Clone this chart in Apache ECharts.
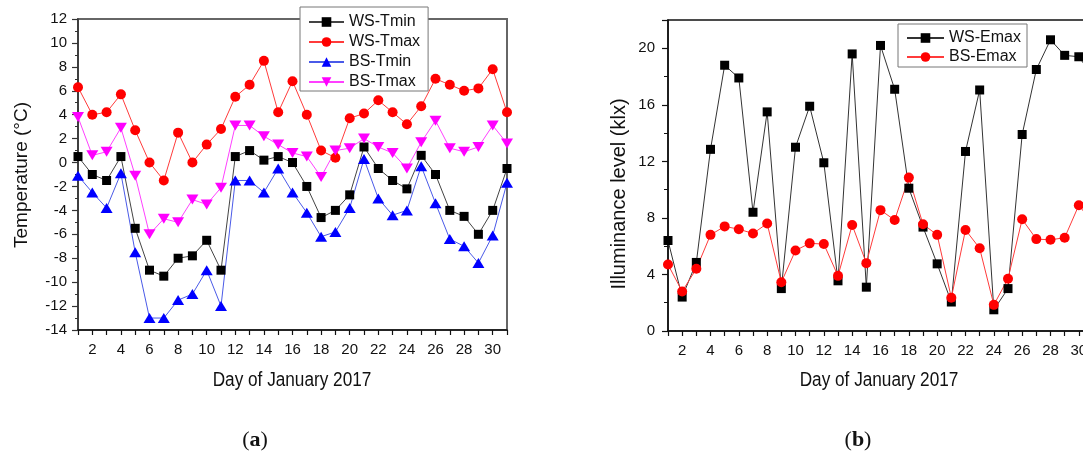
<!DOCTYPE html>
<html><head><meta charset="utf-8">
<script src="https://cdn.jsdelivr.net/npm/echarts@6/dist/echarts.min.js"></script>
<style>html,body{margin:0;padding:0;background:#fff}#c{width:1083px;height:457px}</style>
</head><body><div id="c"></div>
<script>
const days = [1,2,3,4,5,6,7,8,9,10,11,12,13,14,15,16,17,18,19,20,21,22,23,24,25,26,27,28,29,30,31];
const wsTmin = [0.5,-1.0,-1.5,0.5,-5.5,-9.0,-9.5,-8.0,-7.8,-6.5,-9.0,0.5,1.0,0.2,0.5,0.0,-2.0,-4.6,-4.0,-2.7,1.3,-0.5,-1.5,-2.2,0.6,-1.0,-4.0,-4.5,-6.0,-4.0,-0.5];
const wsTmax = [6.3,4.0,4.2,5.7,2.7,0.0,-1.5,2.5,0.0,1.5,2.8,5.5,6.5,8.5,4.2,6.8,4.0,1.0,0.4,3.7,4.1,5.2,4.2,3.2,4.7,7.0,6.5,6.0,6.2,7.8,4.2];
const bsTmin = [-1.1,-2.5,-3.8,-0.9,-7.5,-13.0,-13.0,-11.5,-11.0,-9.0,-12.0,-1.5,-1.5,-2.5,-0.5,-2.5,-4.2,-6.2,-5.8,-3.8,0.3,-3.0,-4.4,-4.0,-0.3,-3.4,-6.4,-7.0,-8.4,-6.1,-1.7];
const bsTmax = [3.8,0.6,0.9,2.9,-1.1,-6.0,-4.7,-5.0,-3.1,-3.5,-2.1,3.1,3.1,2.2,1.5,0.8,0.5,-1.2,1.0,1.2,2.0,1.3,0.8,-0.5,1.7,3.5,1.2,0.9,1.3,3.1,1.6];
const wsEmax = [6.4,2.4,4.85,12.85,18.8,17.9,8.4,15.5,3.0,13.0,15.9,11.9,3.55,19.6,3.1,20.2,17.1,10.1,7.35,4.75,2.05,12.7,17.05,1.5,3.0,13.9,18.5,20.6,19.5,19.4,18.0];
const bsEmax = [4.7,2.8,4.4,6.8,7.4,7.2,6.9,7.6,3.45,5.7,6.2,6.15,3.9,7.5,4.8,8.55,7.85,10.85,7.55,6.8,2.35,7.15,5.85,1.85,3.7,7.9,6.5,6.45,6.6,8.9,7.6];
const xTitle = 'Day of January 2017';
const yTitleA = 'Temperature (°C)';
const yTitleB = 'Illuminance level (klx)';

const pairs = arr => arr.map((v, i) => [days[i], v]);
const reg = "'Liberation Sans',Arial,sans-serif";

function xAxisCfg(gi) {
  return {
    type: 'value', gridIndex: gi, min: 1, max: 31, interval: 1,
    axisLine: {show: true, onZero: false, lineStyle: {color: '#111', width: 1.5}},
    axisTick: {show: true, length: 5, lineStyle: {color: '#111', width: 1.2}},
    axisLabel: {margin: 12, fontSize: 15, fontFamily: reg, color: '#111',
      formatter: v => (v % 2 === 0 ? String(v) : '')},
    splitLine: {show: false}
  };
}

function lineSeries(name, data, gi, symbol, size, color, lineColor, rotate) {
  return {
    name, type: 'line', xAxisIndex: gi, yAxisIndex: gi, data: pairs(data),
    symbol, symbolSize: size, symbolRotate: rotate || 0, showAllSymbol: true,
    itemStyle: {color, borderWidth: 0},
    lineStyle: {color: lineColor, width: 1},
    emphasis: {disabled: true}, z: 3
  };
}

function title(text, x, y, rot, size, sx) {
  return {type: 'text', x, y, rotation: rot, scaleX: sx,
    style: {text, font: size + "px 'Liberation Sans', Arial, sans-serif", fill: '#111', align: 'center', verticalAlign: 'middle'}};
}

const chart = echarts.init(document.getElementById('c'), null, {renderer: 'canvas'});
chart.setOption({
  animation: false,
  backgroundColor: '#fff',
  grid: [
    {left: 78, top: 19, right: 576, bottom: 127, show: true, borderColor: '#666', borderWidth: 2, containLabel: false, outerBoundsMode: 'none'},
    {left: 668, top: 20, right: -10, bottom: 126, show: true, borderColor: '#111', borderWidth: 1.5, containLabel: false, outerBoundsMode: 'none'}
  ],
  xAxis: [xAxisCfg(0), xAxisCfg(1)],
  yAxis: [
    {type: 'value', gridIndex: 0, min: -14, max: 12, interval: 2,
     axisLine: {show: true, onZero: false, lineStyle: {color: '#333', width: 1.5}},
     axisTick: {show: true, length: 6, lineStyle: {color: '#333', width: 1.2}},
     minorTick: {show: true, splitNumber: 2, length: 3, lineStyle: {color: '#333', width: 1}},
     axisLabel: {margin: 11, fontSize: 15, fontFamily: reg, color: '#111'},
     splitLine: {show: false}},
    {type: 'value', gridIndex: 1, min: 0, max: 22, interval: 4,
     axisLine: {show: true, onZero: false, lineStyle: {color: '#111', width: 1.5}},
     axisTick: {show: true, length: 6, lineStyle: {color: '#111', width: 1.2}},
     minorTick: {show: true, splitNumber: 2, length: 4, lineStyle: {color: '#111', width: 1}},
     axisLabel: {margin: 13, fontSize: 15, fontFamily: reg, color: '#111',
       formatter: v => (v % 4 === 0 ? String(v) : '')},
     splitLine: {show: false}}
  ],
  legend: [
    {data: ['WS-Tmin', 'WS-Tmax', 'BS-Tmin', 'BS-Tmax'], orient: 'vertical', left: 300, top: 7,
     padding: [7, 8, 1, 8], itemWidth: 35, itemHeight: 12, itemGap: 4,
     backgroundColor: '#fff', borderColor: '#777', borderWidth: 1,
     textStyle: {fontSize: 16, fontFamily: reg, color: '#111', lineHeight: 16}, selectedMode: false},
    {data: ['WS-Emax', 'BS-Emax'], orient: 'vertical', left: 898, top: 24,
     padding: [6, 6, 2, 8], itemWidth: 37, itemHeight: 12, itemGap: 3,
     backgroundColor: '#fff', borderColor: '#777', borderWidth: 1,
     textStyle: {fontSize: 16, fontFamily: reg, color: '#111', lineHeight: 16}, selectedMode: false}
  ],
  series: [
    lineSeries('WS-Tmin', wsTmin, 0, 'rect', 9, '#000', '#444'),
    lineSeries('WS-Tmax', wsTmax, 0, 'circle', 10, '#ff0000', '#ff3b3b'),
    lineSeries('BS-Tmin', bsTmin, 0, 'triangle', [12, 10], '#0000ff', '#4a5ae8'),
    lineSeries('BS-Tmax', bsTmax, 0, 'triangle', [12, 10], '#ff00ff', '#ff40ff', 180),
    lineSeries('WS-Emax', wsEmax, 1, 'rect', 9, '#000', '#333'),
    lineSeries('BS-Emax', bsEmax, 1, 'circle', 10, '#ff0000', '#ff3b3b')
  ],
  graphic: [
    title(yTitleA, 22, 175, Math.PI / 2, 19, 1),
    title(yTitleB, 619, 194, Math.PI / 2, 20, 1),
    title(xTitle, 292, 380, 0, 20, 0.86),
    title(xTitle, 879, 380, 0, 20, 0.86),
    {type: 'text', x: 255, y: 440,
     style: {text: '({b|a})', fill: '#111', align: 'center', verticalAlign: 'middle',
       font: "22px 'Liberation Serif', serif",
       rich: {b: {fontFamily: "'Liberation Serif', serif", fontSize: 22, fontWeight: 'bold', fill: '#111'}}}},
    {type: 'text', x: 858, y: 440,
     style: {text: '({b|b})', fill: '#111', align: 'center', verticalAlign: 'middle',
       font: "22px 'Liberation Serif', serif",
       rich: {b: {fontFamily: "'Liberation Serif', serif", fontSize: 22, fontWeight: 'bold', fill: '#111'}}}}
  ]
});
</script>
</body></html>
